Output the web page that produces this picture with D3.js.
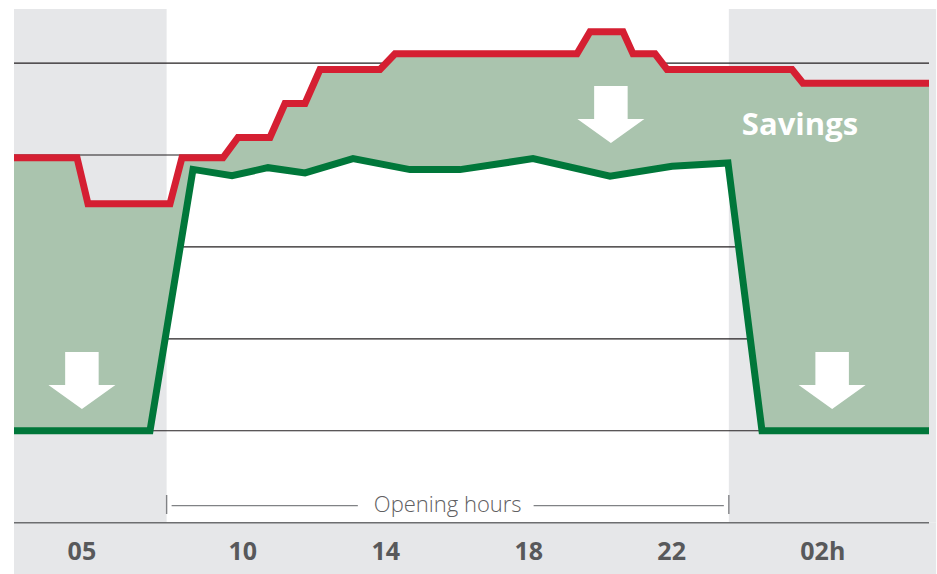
<!DOCTYPE html>
<html>
<head>
<meta charset="utf-8">
<script src="https://cdn.jsdelivr.net/npm/d3@7"></script>
<style>
  html, body { margin: 0; padding: 0; background: #ffffff; }
  svg { display: block; }
</style>
</head>
<body>
<svg id="chart" width="937" height="574"></svg>
<script>
// ---------- data (hours of day, load in grid units) ----------
const redHours   = [3.6, 5.363, 5.670, 7.965, 8.300, 9.447, 9.867, 10.762, 11.182, 11.742, 12.161, 13.840, 14.260, 19.352, 19.716, 20.639, 20.919, 21.535, 21.871, 25.368, 25.675, 29.2];
const redValues  = [3.97, 3.97, 3.47, 3.47, 3.97, 3.97, 4.19, 4.19, 4.56, 4.56, 4.93, 4.93, 5.10, 5.10, 5.34, 5.34, 5.10, 5.10, 4.93, 4.93, 4.78, 4.78];

const greenHours  = [3.6, 7.405, 8.608, 9.699, 10.706, 11.742, 13.085, 14.679, 16.078, 18.121, 20.275, 22.010, 23.576, 24.527, 29.2];
const greenValues = [1.0, 1.0, 3.843, 3.775, 3.862, 3.805, 3.960, 3.841, 3.841, 3.960, 3.769, 3.878, 3.914, 1.0, 1.0];

const tickHours  = [5.5, 10, 14, 18, 22, 26];
const tickLabels = ["05", "10", "14", "18", "22", "02h"];
const gridValues = [1, 2, 3, 4, 5];

const closedPeriods = [[3.6, 7.87], [23.6, 29.4]];
const openingHours  = [7.87, 23.6];
const openingLabel  = "Opening hours";
const savingsLabel  = "Savings";

// ---------- layout ----------
const svg = d3.select("#chart");
const W = 937, H = 574;
const x = d3.scaleLinear().domain([3.6, 29.2]).range([14, 929]);
const y = d3.scaleLinear().domain([0, 5.588]).range([522.7, 9]);

const COL = {
  band: "#e6e7e9",
  fill: "#aac4ae",
  red: "#d51f32",
  green: "#00773a",
  grid: "#231f20",
  axis: "#6d6e70",
  text: "#58595b",
  bracket: "#808285"
};

// gray "closed" bands
svg.append("g").selectAll("rect").data(closedPeriods).join("rect")
  .attr("x", d => x(d[0]))
  .attr("y", y.range()[1])
  .attr("width", d => x(d[1]) - x(d[0]))
  .attr("height", y(0) - y.range()[1])
  .attr("fill", COL.band);

// bottom axis band
svg.append("rect")
  .attr("x", x(3.6)).attr("y", y(0))
  .attr("width", x(29.4) - x(3.6)).attr("height", H - y(0))
  .attr("fill", COL.band);

// gridlines
svg.append("g").selectAll("line").data(gridValues).join("line")
  .attr("x1", x(3.6)).attr("x2", x(29.2))
  .attr("y1", d => y(d)).attr("y2", d => y(d))
  .attr("stroke", COL.grid).attr("stroke-width", 1.2);

// savings area between red and green
const redPts = redHours.map((h, i) => [x(h), y(redValues[i])]);
const greenPts = greenHours.map((h, i) => [x(h), y(greenValues[i])]);
const line = d3.line();
svg.append("path")
  .attr("d", line(redPts.concat(greenPts.slice().reverse())) + "Z")
  .attr("fill", COL.fill);

// arrows
const arrows = [[5.5, 1.237], [20.3, 4.131], [26.49, 1.237]];
const arrowShape = [[-16.75, -57], [16.75, -57], [16.75, -24], [33.5, -24], [0, 0], [-33.5, -24], [-16.75, -24]];
svg.append("g").selectAll("path").data(arrows).join("path")
  .attr("transform", d => `translate(${x(d[0])},${y(d[1])})`)
  .attr("d", line(arrowShape) + "Z")
  .attr("fill", "#ffffff");

// savings label
svg.append("text")
  .attr("x", x(25.59)).attr("y", y(4.219))
  .attr("text-anchor", "middle")
  .attr("font-family", "'Open Sans', sans-serif")
  .attr("font-weight", 700)
  .attr("font-size", 31)
  .attr("fill", "#ffffff")
  .text(savingsLabel);

// lines
svg.append("path").attr("d", line(redPts))
  .attr("fill", "none").attr("stroke", COL.red)
  .attr("stroke-width", 7).attr("stroke-linejoin", "miter");
svg.append("path").attr("d", line(greenPts))
  .attr("fill", "none").attr("stroke", COL.green)
  .attr("stroke-width", 7).attr("stroke-linejoin", "miter");

// axis line
svg.append("line")
  .attr("x1", x(3.6)).attr("x2", x(29.2))
  .attr("y1", y(0)).attr("y2", y(0))
  .attr("stroke", COL.axis).attr("stroke-width", 1.6);

// tick labels
const tickG = svg.append("g");
tickHours.forEach((h, i) => {
  const lab = tickLabels[i];
  const m = lab.match(/^(\d+)(.*)$/);
  const t = tickG.append("text")
    .attr("x", x(h)).attr("y", 560)
    .attr("text-anchor", "middle")
    .attr("font-family", "'Open Sans', sans-serif")
    .attr("font-weight", 700)
    .attr("font-size", 25)
    .attr("fill", COL.text)
    .text(lab);
  if (m && m[2]) {
    // keep the numeric part centred on the tick, let the unit hang to the right
    const tmp = tickG.append("text")
      .attr("font-family", "'Open Sans', sans-serif")
      .attr("font-weight", 700).attr("font-size", 25).text(m[2]);
    const w = tmp.node().getComputedTextLength();
    tmp.remove();
    t.attr("x", x(h) + w / 2);
  }
});

// opening hours bracket
const by = y(0) - 17;
const bx0 = x(openingHours[0]), bx1 = x(openingHours[1]);
const bg = svg.append("g");
const otext = bg.append("text")
  .attr("x", (bx0 + bx1) / 2).attr("y", 512)
  .attr("text-anchor", "middle")
  .attr("font-family", "'Open Sans', sans-serif")
  .attr("font-weight", 300)
  .attr("font-size", 22)
  .attr("fill", "#5f6062")
  .text(openingLabel);
const tw = otext.node().getComputedTextLength();
const cx = (bx0 + bx1) / 2;
bg.append("line").attr("x1", bx0 + 5).attr("x2", cx - tw / 2 - 16)
  .attr("y1", by).attr("y2", by).attr("stroke", COL.bracket).attr("stroke-width", 1.2);
bg.append("line").attr("x1", cx + tw / 2 + 12).attr("x2", bx1 - 5)
  .attr("y1", by).attr("y2", by).attr("stroke", COL.bracket).attr("stroke-width", 1.2);
[bx0, bx1].forEach(bx => {
  bg.append("line").attr("x1", bx).attr("x2", bx)
    .attr("y1", y(0) - 27.7).attr("y2", y(0) - 8.7)
    .attr("stroke", COL.bracket).attr("stroke-width", 1.4);
});
</script>
</body>
</html>
